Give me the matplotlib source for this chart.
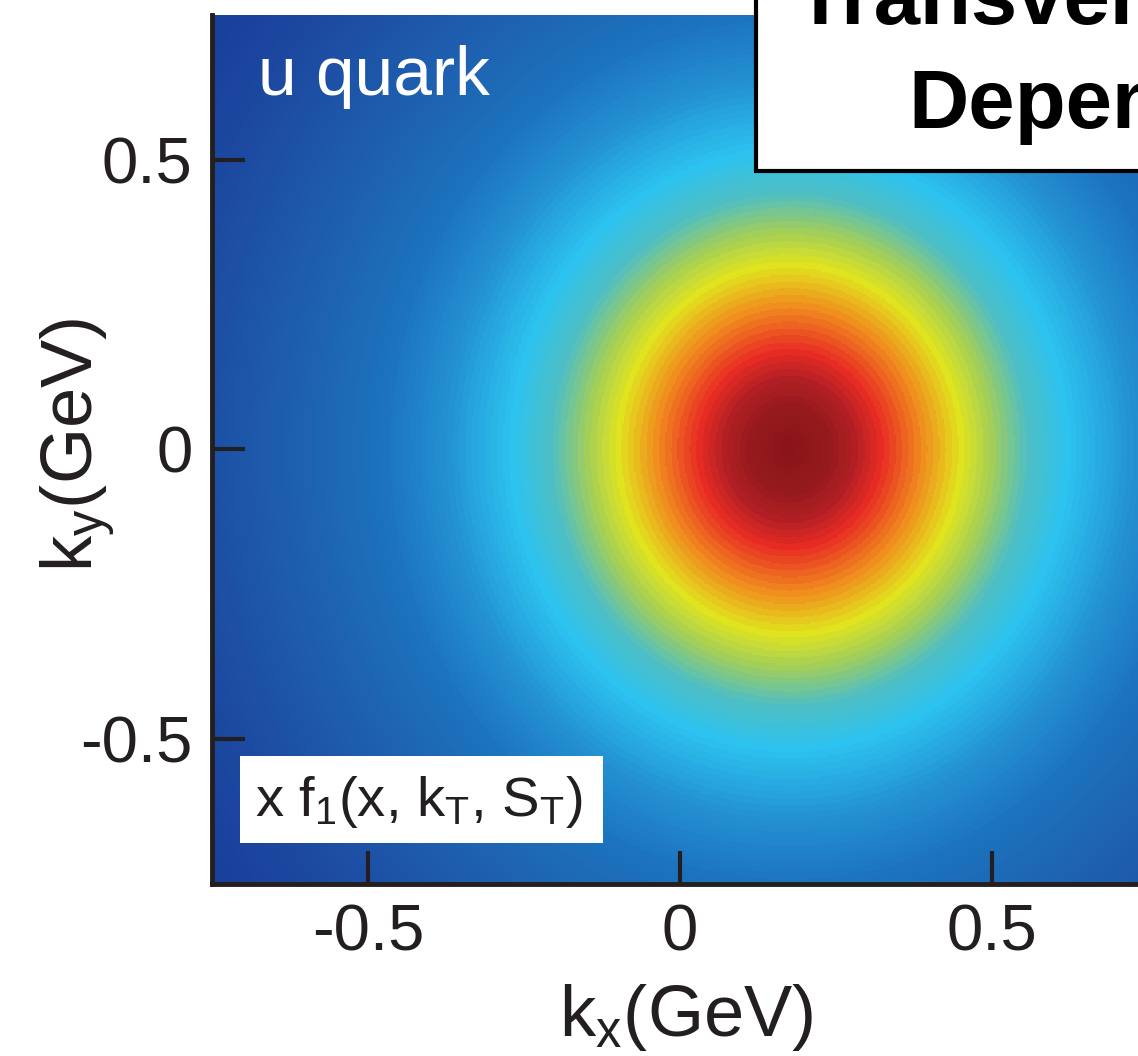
import numpy as np
import matplotlib.pyplot as plt
from matplotlib.colors import LinearSegmentedColormap, FuncNorm
from matplotlib.patches import Rectangle

""" u quark transverse momentum density in the (kx, ky) plane """

plt.rcParams['font.family'] = ['Liberation Sans', 'DejaVu Sans']
plt.rcParams['mathtext.fontset'] = 'custom'
plt.rcParams['mathtext.rm'] = 'Liberation Sans'
plt.rcParams['mathtext.it'] = 'Liberation Sans'

# distribution: centre shifted along kx, widths in GeV
kx_centre = 0.176
ky_centre = 0.0
sigma_x = 0.20
sigma_y = 0.232

kx_range = [-0.75, 0.75]
ky_range = [-0.75, 0.75]
ticks = [-0.5, 0, 0.5]
tick_labels = ['-0.5', '0', '0.5']

# colour stops, in units of sigma from the peak (outer edge first)
stop_rho = [5.5, 5.0, 4.0, 3.25, 2.75, 2.22, 1.9, 1.6, 1.36, 1.05, 0.72, 0.5, 0.3, 0.0]
stop_col = ['#19419b', '#1c48a0', '#1e5faf', '#1c73be', '#2391d2', '#2dc3f0',
            '#4ebec4', '#a6cf55', '#e1e41e', '#f08c1e', '#e82c24', '#b01f24',
            '#961a1d', '#8a1419']
rho_max = stop_rho[0]

kx = np.linspace(kx_range[0], kx_range[1], 700)
ky = np.linspace(ky_range[0], ky_range[1], 700)
KX, KY = np.meshgrid(kx, ky)
f = np.exp(-0.5*(((KX - kx_centre)/sigma_x)**2 + ((KY - ky_centre)/sigma_y)**2))

cmap = LinearSegmentedColormap.from_list(
    'tmd', [(1 - r/rho_max, c) for r, c in zip(stop_rho, stop_col)], N=110)
norm = FuncNorm((lambda v: -np.sqrt(-2*np.log(np.clip(v, 1e-300, 1))),
                 lambda t: np.exp(-t**2/2)),
                vmin=np.exp(-rho_max**2/2), vmax=1.0)

fig = plt.figure(figsize=(11.38, 10.56), dpi=100)
ax = fig.add_axes([0.1863, 0.1629, 0.8225, 0.8229])
ax.pcolormesh(KX, KY, f, cmap=cmap, norm=norm, shading='auto')
ax.set_xlim(kx_range)
ax.set_ylim(ky_range)

for s in ['top', 'right']:
    ax.spines[s].set_visible(False)
for s in ['left', 'bottom']:
    ax.spines[s].set_linewidth(3.5)
    ax.spines[s].set_color('#231f20')

ax.set_xticks(ticks)
ax.set_xticklabels(tick_labels)
ax.set_yticks(ticks)
ax.set_yticklabels(tick_labels)
ax.tick_params(direction='in', length=24, width=3, color='#231f20',
               labelsize=47, labelcolor='#231f20', pad=14)

ax.set_xlabel(r'k$_\mathrm{x}$(GeV)', fontsize=52, color='#231f20')
ax.set_ylabel(r'k$_\mathrm{y}$(GeV)', fontsize=52, color='#231f20')
ax.xaxis.set_label_coords(0.506, -0.113)
ax.yaxis.set_label_coords(-0.1015, 0.505)

ax.text(258/1138, 1 - 95/1056, 'u quark', transform=fig.transFigure,
        fontsize=50, color='white', ha='left', va='baseline')

fig.patches.append(Rectangle((240/1138, 1 - 843/1056), 363/1138, 87/1056,
                             transform=fig.transFigure, facecolor='white',
                             edgecolor='none'))
fig.text(255/1138, 1 - 816/1056, r'x f$_1$(x, k$_\mathrm{T}$, S$_\mathrm{T}$)',
         fontsize=40.5, color='#231f20', ha='left', va='baseline')

# title box cut by the picture's edge
fig.patches.append(Rectangle((756/1138, 1 - 171/1056), 0.5, 0.3,
                             transform=fig.transFigure, facecolor='white',
                             edgecolor='black', linewidth=3))
fig.text(795/1138, 1 - 24/1056, 'Transverse Momentum', fontsize=60,
         fontweight='bold', ha='left', va='baseline')
fig.text(908/1138, 1 - 128/1056, 'Dependent', fontsize=60,
         fontweight='bold', ha='left', va='baseline')

plt.savefig('out.png', dpi=100)
